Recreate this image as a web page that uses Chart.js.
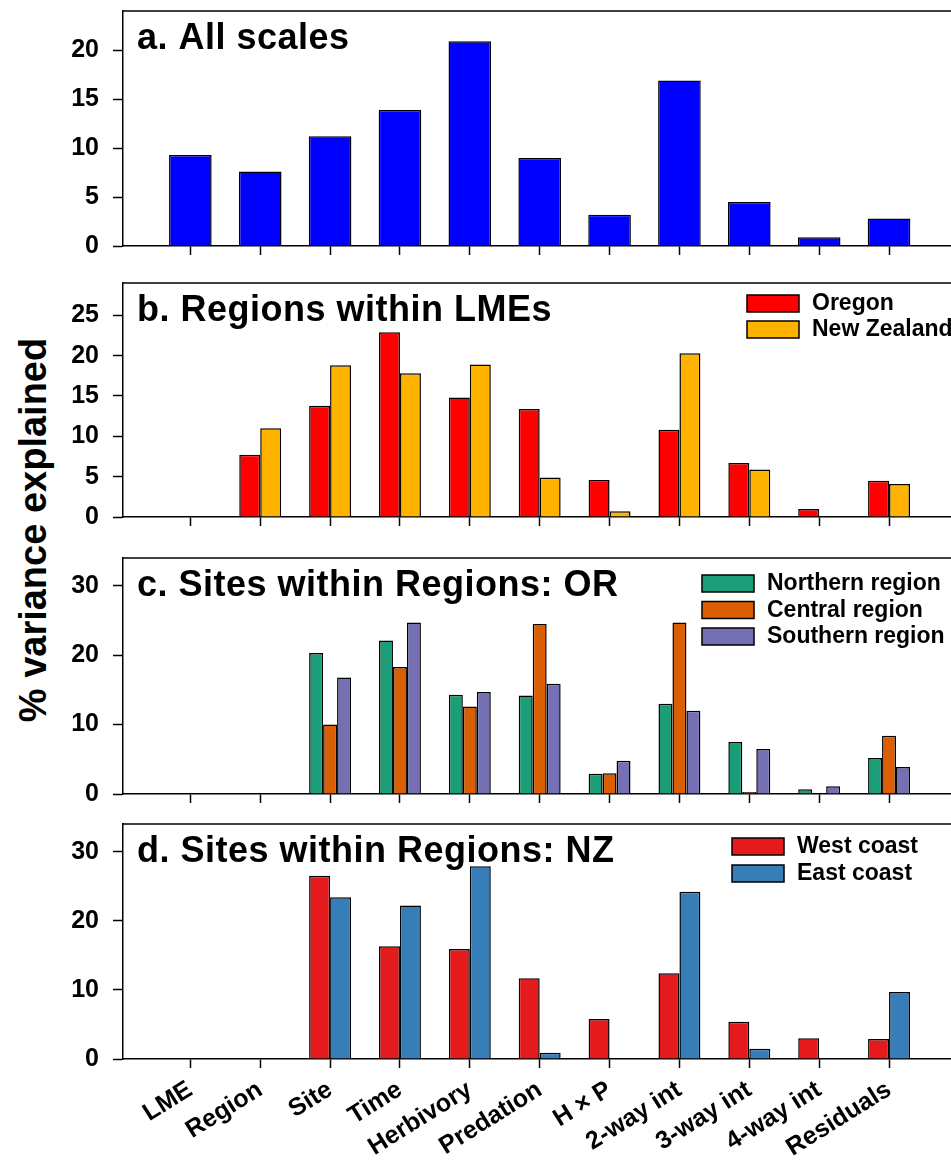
<!DOCTYPE html>
<html>
<head>
<meta charset="utf-8">
<script src="https://cdn.jsdelivr.net/npm/chart.js@4.4.1/dist/chart.umd.min.js"></script>
<style>
  html, body { margin: 0; padding: 0; background: #fff; overflow: hidden; }
  body { width: 951px; height: 1160px; position: relative; }
  canvas { position: absolute; left: 0; }
  #ytitle {
    position: absolute; left: -263px; top: 505px; width: 600px; height: 50px;
    line-height: 50px; text-align: center; transform: rotate(-90deg);
    font: bold 38px "Liberation Sans", Arial, sans-serif; color: #000; white-space: nowrap;
  }
</style>
</head>
<body>
<div id="ytitle">% variance explained</div>
<script>
// Variance components (% explained) by source of variation
const categories = ['LME', 'Region', 'Site', 'Time', 'Herbivory', 'Predation', 'H × P',
                    '2-way int', '3-way int', '4-way int', 'Residuals'];

const allScales  = [9.3, 7.6, 11.2, 13.9, 20.9, 9.0, 3.2, 16.9, 4.5, 0.9, 2.8];

const oregon     = [null, 7.7, 13.8, 22.9, 14.8, 13.4, 4.6, 10.8, 6.7, 1.0, 4.5];
const newZealand = [null, 11.0, 18.8, 17.8, 18.9, 4.9, 0.7, 20.3, 5.9, null, 4.1];

const northernOR = [null, null, 20.3, 22.1, 14.3, 14.2, 2.9, 13.0, 7.5, 0.7, 5.2];
const centralOR  = [null, null, 10.0, 18.3, 12.6, 24.5, 3.0, 24.7, 0.3, null, 8.4];
const southernOR = [null, null, 16.8, 24.7, 14.7, 15.9, 4.8, 12.0, 6.5, 1.1, 3.9];

const westCoastNZ = [null, null, 26.5, 16.3, 15.9, 11.7, 5.8, 12.4, 5.4, 3.0, 2.9];
const eastCoastNZ = [null, null, 23.4, 22.2, 27.9, 0.9, null, 24.2, 1.5, null, 9.7];

const FONT = '"Liberation Sans", Arial, sans-serif';
const AXIS_LEFT = 123;       // width reserved for the y axis
const CANVAS_W = 961;        // plot box runs past the right edge of the page
const X_MIN = 0.036, X_MAX = 12.03;

const toPoints = arr => arr.map((v, i) => ({ x: i + 1, y: v }));

// Panel heading and in-plot legend
const panelDecor = {
  id: 'panelDecor',
  afterDraw(chart, args, opts) {
    const { ctx, chartArea } = chart;
    ctx.save();
    // top edge of the plot frame
    ctx.strokeStyle = '#000';
    ctx.lineWidth = 1.5;
    ctx.beginPath();
    ctx.moveTo(chartArea.left - 0.75, chartArea.top);
    ctx.lineTo(chartArea.right, chartArea.top);
    ctx.stroke();
    // heading
    ctx.fillStyle = '#000';
    ctx.font = 'bold 36px ' + FONT;
    ctx.letterSpacing = '0.5px';
    ctx.textAlign = 'left';
    ctx.textBaseline = 'alphabetic';
    ctx.fillText(opts.title, chartArea.left + 14, chartArea.top + 38);
    ctx.letterSpacing = '0px';
    // legend
    if (opts.legend) {
      const { dx, dy, pitch } = opts.legend;
      ctx.font = 'bold 23px ' + FONT;
      ctx.textBaseline = 'middle';
      chart.data.datasets.forEach((ds, i) => {
        const x = chartArea.left + dx;
        const y = chartArea.top + dy + i * pitch;
        ctx.fillStyle = ds.backgroundColor;
        ctx.fillRect(x, y, 52, 17);
        ctx.lineWidth = 1.5;
        ctx.strokeStyle = '#000';
        ctx.strokeRect(x, y, 52, 17);
        ctx.fillStyle = '#000';
        ctx.fillText(ds.label, x + 65, y + 9);
      });
    }
    ctx.restore();
  }
};

function makePanel(cfg) {
  const padTop = 10;
  const canvas = document.createElement('canvas');
  const height = (cfg.bottom - cfg.top) + padTop + cfg.xAxisH;
  canvas.width = CANVAS_W;
  canvas.height = height;
  canvas.style.top = (cfg.top - padTop) + 'px';
  canvas.style.width = CANVAS_W + 'px';
  canvas.style.height = height + 'px';
  document.body.appendChild(canvas);

  new Chart(canvas, {
    type: 'bar',
    data: {
      datasets: cfg.series.map(s => ({
        label: s.label,
        data: toPoints(s.values),
        backgroundColor: s.color,
        borderColor: '#000',
        borderWidth: 1.5,
        borderSkipped: 'bottom',
        categoryPercentage: cfg.catPct,
        barPercentage: 1.0
      }))
    },
    options: {
      responsive: false,
      animation: false,
      devicePixelRatio: 1,
      layout: { padding: { top: padTop, left: 0, right: 0, bottom: 0 } },
      plugins: {
        legend: { display: false },
        tooltip: { enabled: false },
        panelDecor: { title: cfg.title, legend: cfg.legend }
      },
      scales: {
        x: {
          type: 'linear',
          min: X_MIN,
          max: X_MAX,
          offset: false,
          afterBuildTicks: scale => {
            scale.ticks = categories.map((c, i) => ({ value: i + 1 }));
          },
          afterFit: scale => {
            scale.height = cfg.xAxisH;
            scale.paddingLeft = 0;
            scale.paddingRight = 0;
          },
          grid: {
            display: true, drawOnChartArea: false, drawTicks: true, offset: false,
            tickLength: 9, tickColor: '#000', tickWidth: 1.5
          },
          border: { display: true, color: '#000', width: 1.5 },
          ticks: {
            display: cfg.showLabels,
            autoSkip: false,
            minRotation: 32,
            maxRotation: 32,
            padding: 7,
            color: '#000',
            font: { family: FONT, size: 25, weight: 'bold' },
            callback: v => categories[Math.round(v) - 1] ?? ''
          }
        },
        y: {
          min: 0,
          max: cfg.yMax,
          afterFit: scale => {
            scale.width = AXIS_LEFT;
            scale.paddingTop = 0;
            scale.paddingBottom = 0;
          },
          grid: {
            display: true, drawOnChartArea: false, drawTicks: true,
            tickLength: 10, tickColor: '#000', tickWidth: 1.5
          },
          border: { display: true, color: '#000', width: 1.5 },
          ticks: {
            stepSize: cfg.yStep,
            includeBounds: false,
            padding: 14,
            color: '#000',
            font: { family: FONT, size: 25, weight: 'bold' }
          }
        }
      }
    },
    plugins: [panelDecor]
  });
}

makePanel({
  top: 11, bottom: 246, xAxisH: 16, yMax: 24, yStep: 5, catPct: 0.61,
  title: 'a. All scales', showLabels: false,
  series: [{ label: 'All scales', values: allScales, color: '#0000FF' }]
});

makePanel({
  top: 283, bottom: 517, xAxisH: 16, yMax: 29, yStep: 5, catPct: 0.6,
  title: 'b. Regions within LMEs', showLabels: false,
  legend: { dx: 624, dy: 12, pitch: 26 },
  series: [
    { label: 'Oregon', values: oregon, color: '#FF0000' },
    { label: 'New Zealand', values: newZealand, color: '#FFB300' }
  ]
});

makePanel({
  top: 558, bottom: 794, xAxisH: 16, yMax: 34, yStep: 10, catPct: 0.6,
  title: 'c. Sites within Regions: OR', showLabels: false,
  legend: { dx: 579, dy: 17, pitch: 26.5 },
  series: [
    { label: 'Northern region', values: northernOR, color: '#1B9E77' },
    { label: 'Central region', values: centralOR, color: '#D95F02' },
    { label: 'Southern region', values: southernOR, color: '#7570B3' }
  ]
});

makePanel({
  top: 824, bottom: 1059, xAxisH: 101, yMax: 34, yStep: 10, catPct: 0.6,
  title: 'd. Sites within Regions: NZ', showLabels: true,
  legend: { dx: 609, dy: 14, pitch: 27 },
  series: [
    { label: 'West coast', values: westCoastNZ, color: '#E41A1C' },
    { label: 'East coast', values: eastCoastNZ, color: '#377EB8' }
  ]
});
</script>
</body>
</html>
